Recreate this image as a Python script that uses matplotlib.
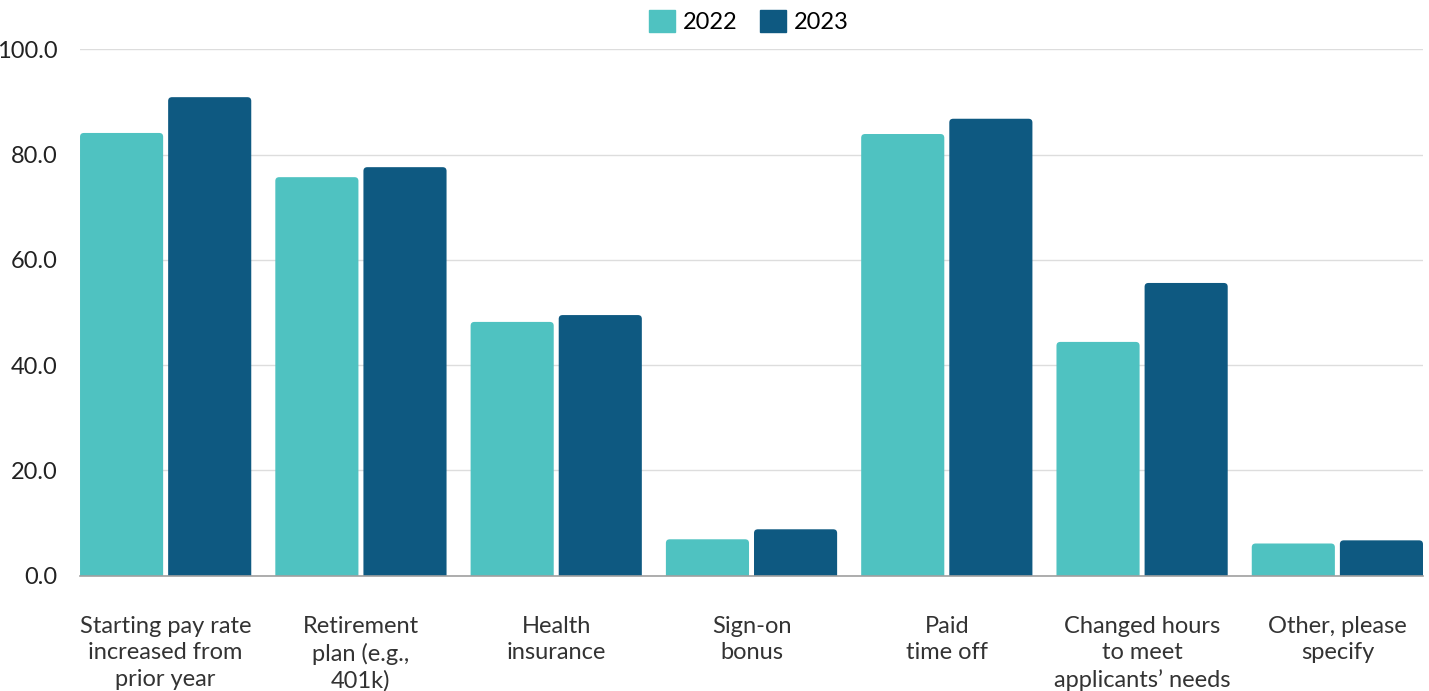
import matplotlib.pyplot as plt
import matplotlib.patches as mpatches
from matplotlib.patches import FancyBboxPatch
import numpy as np

plt.rcParams['font.family'] = ['Lato', 'DejaVu Sans']

# Survey data
categories = [
    'Starting pay rate\nincreased from\nprior year',
    'Retirement\nplan (e.g.,\n401k)',
    'Health\ninsurance',
    'Sign-on\nbonus',
    'Paid\ntime off',
    'Changed hours\nto meet\napplicants\u2019 needs',
    'Other, please\nspecify',
]
values_2022 = [84.1, 75.7, 48.2, 6.9, 83.9, 44.4, 6.1]
values_2023 = [90.9, 77.6, 49.5, 8.8, 86.8, 55.6, 6.7]
years = ['2022', '2023']

colors = {'2022': '#4FC2C1', '2023': '#0E5981'}

fig = plt.figure(figsize=(14.29, 6.91), dpi=100)
ax = fig.add_axes([0.056, 0.167, 0.9398, 0.7617])

x = np.arange(len(categories))
bw = 0.4256
gap = 0.0256
half_group = bw + gap / 2

ax.set_xlim(-half_group, len(categories) - 1 + half_group)
ax.set_ylim(0, 100)

# Rounded-top bars: draw plain bars for geometry, then swap in rounded boxes
radius_x = 0.02
aspect = 36.0
for vals, yr, off in [(values_2022, '2022', -(bw + gap) / 2), (values_2023, '2023', (bw + gap) / 2)]:
    bars = ax.bar(x + off, vals, width=bw, color=colors[yr])
    for b in bars:
        patch = FancyBboxPatch((b.get_x(), -3), b.get_width(), b.get_height() + 3,
                               boxstyle=f'round,pad=0,rounding_size={radius_x}',
                               mutation_aspect=aspect, facecolor=colors[yr],
                               edgecolor='none', zorder=2, clip_on=True)
        ax.add_patch(patch)
        b.remove()

ax.set_yticks(np.arange(0, 101, 20))
ax.set_yticklabels([f'{v:.1f}' for v in np.arange(0, 101, 20)], fontsize=17, color='#222222')
ax.set_xticks(x)
ax.set_xticklabels(categories, fontsize=17, color='#333333', linespacing=1.32)
ax.tick_params(axis='both', length=0)
ax.tick_params(axis='y', pad=16)
ax.tick_params(axis='x', pad=29)

ax.grid(axis='y', color='#DDDDDD', linewidth=1)
ax.set_axisbelow(True)
for s in ['top', 'right', 'left']:
    ax.spines[s].set_visible(False)
ax.spines['bottom'].set_color('#A0A0A0')
ax.spines['bottom'].set_linewidth(1.2)
ax.spines['bottom'].set_zorder(3)

handles = [mpatches.Patch(color=colors[y], label=y) for y in years]
fig.legend(handles=handles, loc='upper center', bbox_to_anchor=(0.524, 1.017),
           ncol=2, frameon=False, fontsize=17, handlelength=1.1, handleheight=1.1,
           handletextpad=0.35, columnspacing=0.95)

fig.savefig('out.png', dpi=100, facecolor='white')
